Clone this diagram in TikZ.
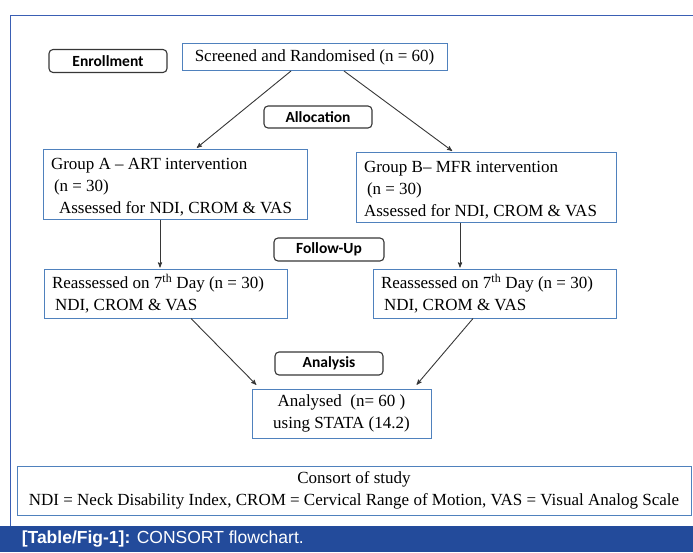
\documentclass[tikz,border=0pt]{standalone}
\usepackage{fontspec}
\setmainfont{Liberation Serif}
\newfontfamily\stagefont{Carlito}
\newfontfamily\capfont{Liberation Sans}
\usepackage{tikz}
\usetikzlibrary{arrows,calc,positioning,shapes}
\definecolor{box_blue}{RGB}{79, 129, 189}
\definecolor{frame_blue}{RGB}{58, 95, 180}
\definecolor{bar_blue}{RGB}{35, 75, 155}
\definecolor{my_gray}{RGB}{55, 55, 55}
\tikzset{
  flownode/.style = {draw=box_blue, line width=1pt, rectangle, fill=white, inner sep=0pt,
  font=\fontsize{17}{22}\selectfont},
  grp_n/.style = {flownode, align=flush left, inner xsep=8pt, minimum height=70pt},
  re_n/.style = {flownode, align=flush left, inner xsep=8pt, minimum height=49pt},
  stage_n/.style = {draw=my_gray, line width=1.1pt, rounded corners=4pt, fill=white, inner sep=0pt,
  minimum height=23pt, font=\fontsize{15.5}{18}\selectfont\stagefont\bfseries}
}
\newcommand{\lowstrut}{\rule{0pt}{17pt}}

\begin{document}
\begin{tikzpicture}[x=1pt, y=-1pt, ->, >=stealth', line width=0.9pt,
        	flow/.style={draw=my_gray, shorten >=1pt}]
		    \useasboundingbox (0,0) rectangle (693,552);
		    \draw[-, frame_blue, line width=1pt] (693,15) -- (10,15) -- (10,526);
		    \fill[bar_blue] (0,526) rectangle (693,552);
		    \node [anchor=west, text=white, font=\fontsize{17.5}{20}\selectfont\capfont] (caption) at (18,539)
		    {\textbf{[Table/Fig-1]:} CONSORT flowchart.};
		    \node [stage_n, minimum width=118pt] (enroll) at (108,61) {Enrollment};
		    \node [flownode, minimum width=265pt, minimum height=27pt] (screen) at (314.5,57)
		    {Screened and Randomised (n = 60)};
		    \node [stage_n, minimum width=108pt, minimum height=22pt] (alloc) at (318,117) {Allocation};
		    \node [grp_n, text width=248pt] (grpA) at (175,184)
		    {\lowstrut Group A -- ART intervention\\\hspace{3pt}(n = 30)\\\hspace{8pt}Assessed for NDI, CROM \& VAS};
		    \node [grp_n, text width=244pt] (grpB) at (486,187)
		    {\lowstrut Group B-- MFR intervention\\\hspace{3pt}(n = 30)\\Assessed for NDI, CROM \& VAS};
		    \node [stage_n, minimum width=110pt] (follow) at (329,249.5) {Follow-Up};
		    \node [re_n, text width=227pt] (reA) at (165.5,293.5)
		    {Reassessed on 7\textsuperscript{th} Day (n = 30)\\\hspace{3pt}NDI, CROM \& VAS};
		    \node [re_n, text width=227pt] (reB) at (494.5,293.5)
		    {Reassessed on 7\textsuperscript{th} Day (n = 30)\\\hspace{3pt}NDI, CROM \& VAS};
		    \node [stage_n, minimum width=108pt] (analysis) at (329,363.5) {Analysis};
		    \node [re_n, align=center, minimum width=179pt] (analysed) at (341.5,413.5)
		    {Analysed\ \ (n= 60 )\\using STATA (14.2)};
		    \node [re_n, align=center, minimum width=674pt] (consort) at (354,490.5)
		    {Consort of study\\NDI = Neck Disability Index, CROM = Cervical Range of Motion, VAS = Visual Analog Scale};
		    \draw[flow] ($(screen.south)+(-23.5,0)$) -- ($(grpA.north)+(21,0)$);
		    \draw[flow] ($(screen.south)+(29.5,0)$) -- ($(grpB.north)+(-33,0)$);
		    \draw[flow] ($(grpA.south)+(-15,0)$) -- ($(reA.north)+(-5.5,0)$);
		    \draw[flow] ($(grpB.south)+(-26,0)$) -- ($(reB.north)+(-34.5,0)$);
		    \draw[flow] ($(reA.south)+(25.5,0)$) -- ($(analysed.north)+(-84.5,-3)$);
		    \draw[flow] ($(reB.south)+(-21.5,0)$) -- ($(analysed.north)+(74.5,-3)$);
		\end{tikzpicture}
\end{document}
